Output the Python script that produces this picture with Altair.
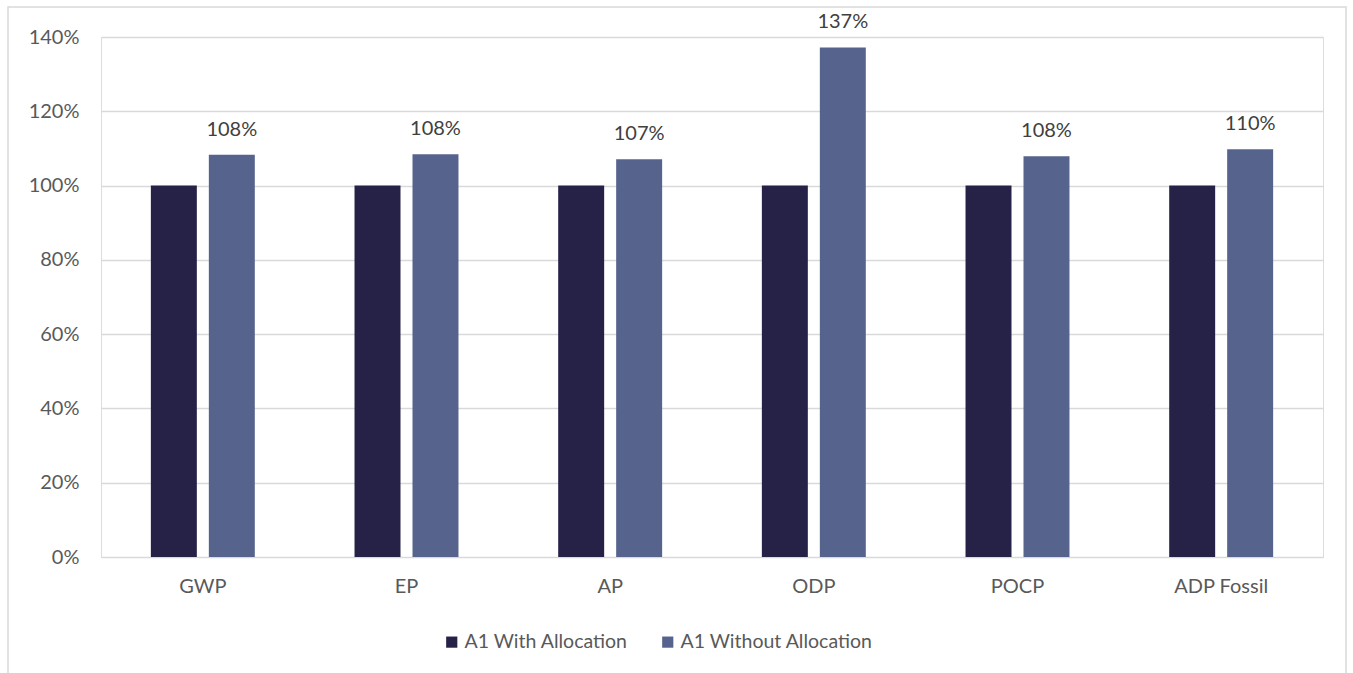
import altair as alt
import pandas as pd

categories = ["GWP", "EP", "AP", "ODP", "POCP", "ADP Fossil"]
series_names = ["A1 With Allocation", "A1 Without Allocation"]
with_alloc = [1.00, 1.00, 1.00, 1.00, 1.00, 1.00]
without_alloc = [1.083, 1.084, 1.071, 1.372, 1.079, 1.098]
colors = ["#252147", "#56638c"]

rows = []
for c, a, b in zip(categories, with_alloc, without_alloc):
    rows.append({"cat": c, "series": series_names[0], "value": a})
    rows.append({"cat": c, "series": series_names[1], "value": b})
df = pd.DataFrame(rows)

FONT = "Lato"

x = alt.X("cat:N", sort=categories, title=None,
          scale=alt.Scale(paddingInner=0, paddingOuter=0),
          axis=alt.Axis(labelAngle=0, labelFontSize=20, labelColor="#595959",
                        labelFont=FONT, ticks=False, domain=False, grid=False,
                        labelPadding=19))
xo = alt.XOffset("series:N", sort=series_names,
                 scale=alt.Scale(paddingInner=0.207, paddingOuter=0.86))

bars = alt.Chart(df).mark_bar().encode(
    x=x,
    xOffset=xo,
    y=alt.Y("value:Q", title=None,
            scale=alt.Scale(domain=[0, 1.4], nice=False),
            axis=alt.Axis(format=".0%", values=[0, 0.2, 0.4, 0.6, 0.8, 1.0, 1.2, 1.4],
                          labelFontSize=20, labelColor="#595959", labelFont=FONT,
                          ticks=False, domain=False, gridColor="#d9d9d9",
                          gridWidth=1.5, labelPadding=22)),
    color=alt.Color("series:N", sort=series_names,
                    scale=alt.Scale(domain=series_names, range=colors),
                    legend=alt.Legend(title=None, orient="none", direction="horizontal",
                                      legendX=341, legendY=595,
                                      symbolType="square", symbolSize=125,
                                      symbolStrokeWidth=0, labelLimit=0,
                                      labelFontSize=19.5, labelColor="#595959",
                                      labelFont=FONT, columnPadding=30,
                                      labelOffset=3)),
)

labels = alt.Chart(df).transform_filter(
    alt.datum.series == series_names[1]
).mark_text(baseline="middle", dy=-25, fontSize=20, color="#404040", font=FONT).encode(
    x=x,
    xOffset=xo,
    y=alt.Y("value:Q"),
    text=alt.Text("value:Q", format=".0%"),
)

border = alt.Chart(pd.DataFrame({"a": [0]})).mark_rect(
    fill=None, stroke="#d9d9d9", strokeWidth=1.5
).encode(
    x=alt.value(-93), x2=alt.value(1245),
    y=alt.value(-30), y2=alt.value(660),
)

chart = alt.layer(border, bars, labels).properties(
    width=1222, height=520,
    padding={"left": 101, "top": 37, "right": 30, "bottom": 116},
    autosize=alt.AutoSizeParams(type="none"),
).configure_view(strokeWidth=0, stroke="transparent").configure(font=FONT)

chart.save("out.html", embed_options={"renderer": "svg", "actions": False})
